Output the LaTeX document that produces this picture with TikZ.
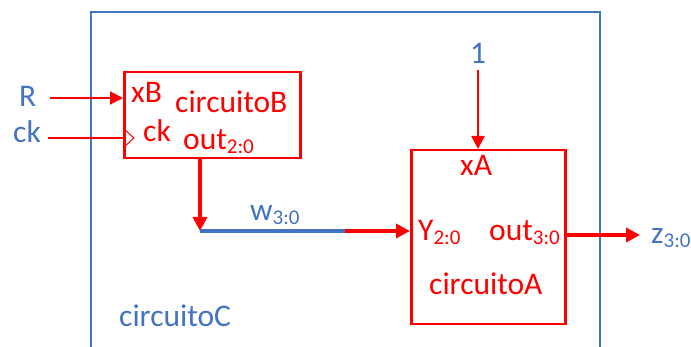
\documentclass[tikz,border=0pt]{standalone}
\usepackage{fontspec}
\setmainfont{Carlito}
\usetikzlibrary{arrows.meta}
\definecolor{cred}{HTML}{FF0000}
\definecolor{cblue}{HTML}{4472C4}
\newcommand{\subs}[1]{\raisebox{-0.1em}{\fontsize{21}{24}\selectfont #1}}
\begin{document}
\begin{tikzpicture}[x=1pt,y=-1pt,
  lbl/.style={anchor=base west,inner sep=0pt,font=\fontsize{31.5}{36}\selectfont},
  rl/.style={lbl,text=cred},
  bl/.style={lbl,text=cblue},
  redbox/.style={draw=cred,line width=2.5pt},
  sig/.style={draw=cred,line width=3.5pt,-{Triangle[length=14pt,width=14pt]}},
  thin/.style={draw=cred,line width=2pt,-{Triangle[length=13pt,width=13pt]}}]
\useasboundingbox (0,0) rectangle (691,347);
\begin{scope}
\clip (0,0) rectangle (691,347);
\draw[cblue,line width=2.5pt] (91,360) -- (91,12) -- (600,12) -- (600,360);
\end{scope}
% circuitoB
\node[redbox,minimum width=176pt,minimum height=86pt,anchor=north west,inner sep=0pt] (B) at (123,71) {};
\node[rl] (xB) at (131,103) {xB};
\node[rl] (cB) at (175,113) {circuitoB};
\node[rl] (ckB) at (143,142) {ck};
\node[rl] (oB) at (183,150) {out\subs{2:0}};
\draw[cred,line width=1pt] (123,128) -- (134,138) -- (123,148);
% circuitoA
\node[redbox,minimum width=154pt,minimum height=174pt,anchor=north west,inner sep=0pt] (A) at (410,149) {};
\node[rl] (xA) at (460,176) {xA};
\node[rl] (yA) at (418,241) {Y\subs{2:0}};
\node[rl] (oA) at (489,241) {out\subs{3:0}};
\node[rl] (cA) at (429,295) {circuitoA};
% outer labels
\node[bl] (R) at (19,107) {R};
\node[bl] (ck) at (13,143) {ck};
\node[bl] (one) at (470,64) {1};
\node[bl] (w) at (250,221) {w\subs{3:0}};
\node[bl] (z) at (651,244) {z\subs{3:0}};
\node[bl] (cC) at (119,327) {circuitoC};
% connectors
\coordinate (Rs) at (50,98);
\coordinate (cks) at (48,138);
\coordinate (wj) at (200,231);
\coordinate (wm) at (345,231);
\draw[thin] (Rs) -- (B.west |- Rs);
\draw[cred,line width=2pt] (cks) -- (B.west |- cks);
\draw[sig] (B.south -| wj) -- (wj);
\draw[cblue,line width=3.5pt] (wj) -- (wm);
\draw[sig] (wm) -- (A.west |- wm);
\draw[thin,line width=2.5pt] (478,70) -- (A.north -| 478,0);
\coordinate (zo) at (640,235);
\draw[sig] (A.east |- zo) -- (zo);
\end{tikzpicture}
\end{document}
